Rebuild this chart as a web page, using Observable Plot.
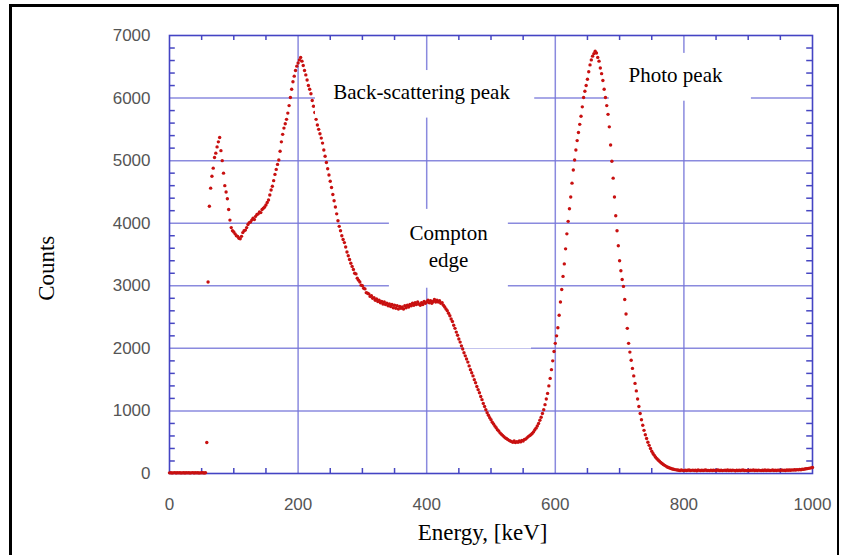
<!DOCTYPE html>
<html><head><meta charset="utf-8">
<script src="https://cdn.jsdelivr.net/npm/d3@7"></script>
<script src="https://cdn.jsdelivr.net/npm/@observablehq/plot@0.6"></script>
<style>
html,body{margin:0;padding:0;background:#fff;}
#wrap{position:relative;width:841px;height:555px;overflow:hidden;background:#fff;}
#chart{position:absolute;left:0;top:0;}
#border{position:absolute;left:9px;top:4px;width:830px;height:620px;border:3px solid #000;border-right-width:2px;box-sizing:border-box;pointer-events:none;}
</style></head><body>
<div id="wrap"><div id="chart"></div><div id="border"></div></div>
<script>
// Spectrum: counts per 2 keV channel, in segments
const stepKeV = 2;
const lowStart = 0;
const lowCounts = [10,12,8,10,14,9,11,10,12,8,10,13,9,11,10,12,9,10,14,8,11,10,12,9,10,13,11,9,12];
const backscatterStart = 58;
const backscatterCounts = [495,3060,4270,4560,4750,4880,5050,5120,5220,5300,
5370,5160,5000,4800,4600,4500,4390,4220,4050,3930,
3880,3860,3830,3800,3790,3760,3750,3790,3850,3880,
3890,3930,3980,4010,4020,4050,4080,4060,4110,4140,
4150,4180,4170,4220,4240,4260,4290,4330,4370,4450,
4530,4590,4680,4780,4860,4940,5010,5150,5300,5420,
5520,5590,5660,5760,5880,6010,6140,6260,6350,6440,
6510,6560,6610,6650,6590,6520,6440,6370,6290,6200,
6140,6070,5960,5870,5770,5660,5570,5500,5430,5360,
5280,5170,5070,4970,4870,4770,4670,4570,4460,4360,
4260,4150,4040,3950,3880,3800,3740,3690,3620,3540,
3480,3420,3360,3310,3260,3200,3190,3120,3090,3060,
3010,3000,2960,2950,2890,2880,2870,2830,2840,2800,
2810,2770,2790,2750,2770,2730,2750];
const comptonStart = 332;
const comptonCounts = [2710,2740,2700,2720,2680,2710,2670,2700,2650,2690,
2640,2680,2630,2670,2640,2660,2630,2680,2650,2690,
2660,2700,2680,2720,2690,2730,2700,2740,2710,2690,
2730,2700,2750,2720,2740,2770,2730,2760,2720,2750,
2780,2740,2770,2740,2760,2720,2730,2690,2660,2630,
2600,2560,2520,2470,2430,2370,2320,2260,2210,2150,
2100,2040,1990,1930,1880,1830,1780,1720,1660,1610,
1560,1500,1450,1390,1340,1290,1230,1180,1120,1070,
1020,970,930,890,860,820,790,760,730,700,
680,650,630,610,590,570,560,545,530,520,
510,500,520,495,510,500,520,505,530,520,
545,550,570];
const photoStart = 558;
const photoCounts = [590,605,620,640,665,695,725,760,800,850,
900,960,1020,1100,1190,1280,1400,1520,1660,1800,
1950,2080,2200,2330,2530,2740,2940,3150,3350,3590,
3830,4030,4230,4420,4640,4850,5010,5170,5320,5450,
5580,5710,5860,6010,6110,6200,6300,6420,6530,6610,
6670,6710,6750,6720,6650,6590,6480,6390,6280,6140,
6010,5880,5740,5540,5250,4990,4720,4420,4120,3880,
3640,3400,3240,3100,2990,2780,2550,2320,2080,1940,
1810,1680,1560,1440,1320,1190,1070,960,860,770,
690,620,560,500,450,400,355,320,290,260,
235,215,195,175,160,145,130,118,105,95,
88,80,72,68,62,58,55];
const tailStart = 792;
const tailCounts = [52,48,55,50,46,53,49,51,57,47,
50,54,48,52,45,55,50,49,53,47,
51,56,48,50,46,54,49,52,50,47,
55,51,48,53,46,50,52,49,56,47,
51,48,54,50,45,52,49,53,47,51,
55,48,50,46,53,49,52,50,57,47,
51,48,54,50,46,52,49,55,48,51,
53,47,50,56,49,52,48,54,51,47,
55,50,53,49,57,52,55,51,58,54,
60,56,62,58,65,61,68,66,72,75,
78,82,86,90,95];

const xTicks = [0,200,400,600,800,1000];
const yTicks = [0,1000,2000,3000,4000,5000,6000,7000];
const xMinorTicks = [50,100,150,250,300,350,450,500,550,650,700,750,850,900,950];
const yMinorTicks = [200,400,600,800,1200,1400,1600,1800,2200,2400,2600,2800,3200,3400,3600,3800,4200,4400,4600,4800,5200,5400,5600,5800,6200,6400,6600,6800];

const xTitle = "Energy, [keV]";
const yTitle = "Counts";
const noteLabels = ["Back-scattering peak", "Photo peak", "Compton", "edge"];

const segments = [
  {start: lowStart, counts: lowCounts},
  {start: backscatterStart, counts: backscatterCounts},
  {start: comptonStart, counts: comptonCounts},
  {start: photoStart, counts: photoCounts},
  {start: tailStart, counts: tailCounts}
];
const spectrum = segments.flatMap(s => s.counts.map((c, i) => ({energy: s.start + i * stepKeV, counts: c})));

// annotation placement (in keV / counts)
const noteBoxes = [
  {x1: 227, x2: 568, y1: 5680, y2: 6440},
  {x1: 684, x2: 905, y1: 5950, y2: 6714},
  {x1: 342, x2: 527, y1: 2961, y2: 4221},
  {x1: 459, x2: 563, y1: 1990, y2: 2769}
];
const notePos = [
  {x: 392, y: 5978},
  {x: 787, y: 6255},
  {x: 434, y: 3726},
  {x: 434, y: 3295}
];
const notes = noteLabels.map((t, i) => ({text: t, ...notePos[i]}));
const titlePos = [{text: xTitle, x: 487, y: -1065, rotate: 0}, {text: yTitle, x: -180, y: 3280, rotate: -90}];

const grid = {stroke: "#7676d8", strokeOpacity: 0.85, strokeWidth: 1.5};
const tick = {stroke: "#4646c2", strokeWidth: 1.5};
const serif = "'Liberation Serif','Times New Roman',Times,serif";

const chart = Plot.plot({
  width: 841, height: 555,
  marginLeft: 169, marginRight: 29, marginTop: 35, marginBottom: 82,
  x: {domain: [0, 1000]},
  y: {domain: [0, 7000]},
  style: {background: "transparent", fontFamily: "'Liberation Sans',Arial,sans-serif", fontSize: "17px", overflow: "visible"},
  marks: [
    Plot.gridX(xTicks.slice(1, -1), grid),
    Plot.gridY(yTicks.slice(1, -1), grid),
    Plot.ruleX(xMinorTicks, {x: d => d, y1: 0, y2: 80, ...tick}),
    Plot.ruleX(xMinorTicks, {x: d => d, y1: 6920, y2: 7000, ...tick}),
    Plot.ruleY(yMinorTicks, {y: d => d, x1: 0, x2: 9, ...tick}),
    Plot.ruleY(yMinorTicks, {y: d => d, x1: 991, x2: 1000, ...tick}),
    Plot.frame({stroke: "#4444c4", strokeWidth: 1.6}),
    Plot.dot(spectrum, {x: "energy", y: "counts", r: 1.7, fill: "#c81010", stroke: "none"}),
    Plot.rect(noteBoxes, {x1: "x1", x2: "x2", y1: "y1", y2: "y2", fill: "white"}),
    Plot.text(notes, {x: "x", y: "y", text: "text", textAnchor: "middle", lineAnchor: "bottom", fontFamily: serif, fontSize: 21, fill: "#000"}),
    Plot.axisX(xTicks, {tickSize: 0, tickPadding: 24, color: "#555", label: null, tickFormat: d => String(d)}),
    Plot.axisY(yTicks, {tickSize: 0, tickPadding: 19, color: "#555", label: null, tickFormat: d => String(d)}),
    Plot.text(titlePos, {x: "x", y: "y", text: "text", rotate: "rotate", textAnchor: "middle", lineAnchor: "bottom", fontFamily: serif, fontSize: 23, fill: "#000", clip: false})
  ]
});
document.getElementById("chart").appendChild(chart);
</script>
</body></html>
